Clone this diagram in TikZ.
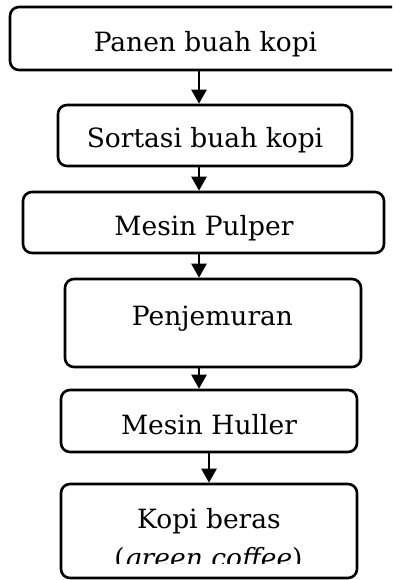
\documentclass[tikz,border=0pt]{standalone}
\usepackage{fontspec}
\setmainfont{DejaVu Serif}
\usetikzlibrary{arrows.meta}
\tikzset{
  box/.style={draw=black, line width=2.6pt, rounded corners=9pt, rectangle, inner sep=0pt},
  txt/.style={inner sep=0pt, anchor=base, font=\fontsize{26.5}{32}\selectfont},
  flow/.style={line width=2.4pt, -{Triangle[width=15pt,length=14pt]}},
}
\begin{document}
\begin{tikzpicture}[x=1pt,y=-1pt]
\useasboundingbox (0,0) rectangle (392,580);
\clip (0,0) rectangle (392,580);

% process boxes
\node[box, minimum width=392pt, minimum height=63pt] (b1) at (206,38.5) {};
\node[box, minimum width=294pt, minimum height=61pt] (b2) at (205,135.5) {};
\node[box, minimum width=361pt, minimum height=61pt] (b3) at (203.5,222.5) {};
\node[box, minimum width=296pt, minimum height=88pt] (b4) at (213,323) {};
\node[box, minimum width=296pt, minimum height=62pt] (b5) at (209,421) {};
\node[box, minimum width=296pt, minimum height=94pt] (b6) at (209,531) {};

% labels
\node[txt] (t1) at (205.5,52) {Panen buah kopi};
\node[txt] (t2) at (205,148) {Sortasi buah kopi};
\node[txt] (t3) at (204,235) {Mesin Pulper};
\node[txt] (t4) at (212.5,325) {Penjemuran};
\node[txt] (t5) at (209,434) {Mesin Huller};
\node[txt] (t6) at (209,528) {Kopi beras};
\begin{scope}
  \clip (0,0) rectangle (392,563.5);
  \node[txt] (t7) at (208.5,567) {(\textit{green coffee})};
\end{scope}

% connectors
\draw[flow] (b1.south -| 199,0) -- (b2.north -| 199,0);
\draw[flow] (b2.south -| 199,0) -- (b3.north -| 199,0);
\draw[flow] (b3.south -| 199,0) -- (b4.north -| 199,0);
\draw[flow] (b4.south -| 199,0) -- (b5.north -| 199,0);
\draw[flow] (b5.south -| 209,0) -- (b6.north -| 209,0);
\end{tikzpicture}
\end{document}
